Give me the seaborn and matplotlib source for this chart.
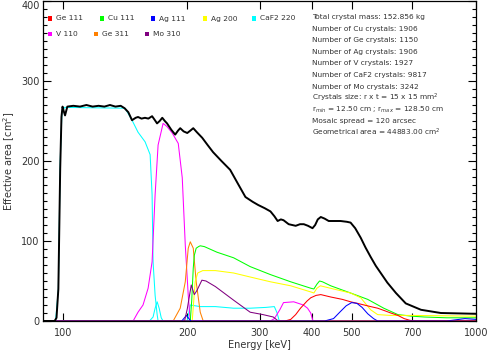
import matplotlib
matplotlib.use("Agg")
import matplotlib.pyplot as plt
from matplotlib.patches import Rectangle
from matplotlib.ticker import MultipleLocator, NullLocator
import pandas as pd
import seaborn as sns


# Total effective area (black curve)

total_e = [90, 95.5, 96.5, 97.5, 98.5, 99.2, 99.8, 100.5, 101.2, 102.5, 106, 110, 114, 118,
           122, 126, 130, 134, 138, 141, 144, 147, 150, 152, 155, 158, 161, 164.4, 167, 169,
           171.5, 174, 176.5, 178.7, 183, 187, 190, 192.3, 196, 200, 203.5, 206.8, 211, 217.4,
           224, 231, 242, 254, 265, 276.6, 288, 297, 308, 318, 325, 331, 337, 342, 352, 366,
           375, 383, 392, 402, 408, 414, 421, 430, 440, 450, 470, 487, 497, 510, 526, 540, 556,
           572, 588, 610, 640, 676, 736, 822, 1000]
total_a = [0, 0, 4, 40, 190, 255, 268, 262, 257, 268, 269, 268, 270, 268,
           269, 268, 270, 268, 269, 266, 261, 251, 254, 255, 253, 254, 253, 256, 251, 247,
           250, 254, 250, 247, 239, 233, 238, 241, 237, 235, 238, 241, 236, 229,
           220, 211, 200, 189, 172, 155, 149, 145, 141, 137, 131, 125, 127, 126, 121, 119,
           121, 121, 119, 116, 120, 127, 130, 128, 125, 125, 125, 124, 123, 116, 104, 92, 80,
           69, 60, 48, 35, 22, 14, 10, 9]


# Crystal components

cyan_e = [90, 96, 97.5, 98.5, 99.5, 101, 141.4, 147, 152, 158.1, 162.6, 164.4, 165.3, 167.2,
          169.1, 170, 200, 203.4, 215, 234, 259, 284, 310, 325, 330, 334, 1000]
cyan_a = [0, 0, 40, 200, 262, 267, 266, 251, 236, 224, 208, 158, 74, 32,
          8, 0, 0, 20, 18, 18, 16, 16, 17, 18, 10, 0, 0]
cyan_peak_e = [162, 165.3, 167.2, 169.1, 171, 173, 174.8]
cyan_peak_a = [0, 5, 16, 24, 16, 4, 0]

v110_e = [90, 147.9, 152, 156.3, 160.8, 164.4, 167.2, 170, 174.8, 178.7, 183.9, 190.2, 194.5,
          197.8, 201.1, 203.4, 318, 325, 335, 342, 362, 382, 391, 398, 403, 1000]
v110_a = [0, 0, 11, 20, 41, 74, 158, 220, 247, 243, 235, 222, 179,
          95, 32, 0, 0, 3, 14, 23, 24, 20, 16, 10, 0, 0]

ge311_e = [90, 184.9, 192.3, 197.8, 201.1, 203.4, 206.8, 210.2, 215, 218.6, 1000]
ge311_a = [0, 0, 16, 49, 91, 99, 91, 49, 11, 0, 0]

cu111_e = [90, 203.4, 205, 206.8, 208, 210.2, 213, 215, 220, 236, 259, 284, 318, 356, 398,
           405, 412, 418, 425, 445, 497, 547, 598, 647, 700, 750, 850, 1000]
cu111_a = [0, 0, 25, 66, 82, 91, 93, 94, 93, 86, 79, 68, 58, 49, 41,
           40, 46, 50, 49, 44, 35, 27, 16, 8, 6, 5, 4, 4]

ag200_e = [90, 205.6, 207, 209, 212, 218, 234, 259, 284, 318, 356, 400, 405, 412, 420, 452,
           497, 526, 556, 578, 620, 700, 1000]
ag200_a = [0, 0, 20, 49, 60, 63, 63, 60, 55, 49, 44, 36, 35, 41, 44, 40,
           35, 29, 14, 8, 7, 7, 6]

ge111_e = [90, 345, 356, 366, 376, 390, 398, 410, 421, 445, 475, 497, 517, 556, 578, 600,
           622, 647, 670, 690, 705, 1000]
ge111_a = [0, 0, 2, 8, 16, 25, 29, 32, 33, 30, 27, 24, 22, 18, 16, 13,
           10, 7, 3, 1, 0, 0]

ag111_e = [90, 430, 452, 470, 485, 500, 515, 530, 547, 565, 578, 850, 940, 1000]
ag111_a = [0, 0, 3, 12, 19, 23, 22, 17, 9, 3, 0, 0, 3, 2]
ag111_low_e = [194, 199, 204]
ag111_low_a = [0, 7, 0]

mo310_e = [90, 197, 200, 204.5, 208, 211, 217, 222, 234, 259, 284, 305, 323, 332, 1000]
mo310_a = [0, 0, 15, 45, 33, 38, 51, 50, 43, 26, 11, 8, 5, 0, 0]


# Legend entries (row 1 / row 2) and colours

legend_row1 = ["Ge 111", "Cu 111", "Ag 111", "Ag 200", "CaF2 220"]
legend_row2 = ["V 110", "Ge 311", "Mo 310"]
palette = {
    "Ge 111": "#ff0000",
    "Cu 111": "#00ff00",
    "Ag 111": "#0000ff",
    "Ag 200": "#ffff00",
    "CaF2 220": "#00ffff",
    "V 110": "#ff00ff",
    "Ge 311": "#ff8000",
    "Mo 310": "#800080",
}

info_lines = [
    "Total crystal mass: 152.856 kg",
    "Number of Cu crystals: 1906",
    "Number of Ge crystals: 1150",
    "Number of Ag crystals: 1906",
    "Number of V crystals: 1927",
    "Number of CaF2 crystals: 9817",
    "Number of Mo crystals: 3242",
    "Crystals size: r x t = 15 x 15 mm$^2$",
    "r$_{min}$ = 12.50 cm ; r$_{max}$ = 128.50 cm",
    "Mosaic spread = 120 arcsec",
    "Geometrical area = 44883.00 cm$^2$",
]


# Long-form table

segments = [
    ("CaF2 220", 0, cyan_e, cyan_a),
    ("CaF2 220", 1, cyan_peak_e, cyan_peak_a),
    ("V 110", 2, v110_e, v110_a),
    ("Ge 311", 3, ge311_e, ge311_a),
    ("Cu 111", 4, cu111_e, cu111_a),
    ("Ag 200", 5, ag200_e, ag200_a),
    ("Ge 111", 6, ge111_e, ge111_a),
    ("Ag 111", 7, ag111_e, ag111_a),
    ("Ag 111", 8, ag111_low_e, ag111_low_a),
    ("Mo 310", 9, mo310_e, mo310_a),
]

rows = []
for name, seg, es, As in segments:
    for e, a in zip(es, As):
        rows.append({"crystal": name, "segment": seg, "energy": e, "area": a})
df = pd.DataFrame(rows)

total_df = pd.DataFrame({"energy": total_e, "area": total_a})

draw_order = ["CaF2 220", "V 110", "Ge 311", "Cu 111", "Ag 200", "Ge 111", "Ag 111", "Mo 310"]


# Figure

sns.set_style("ticks")
plt.rcParams["font.family"] = ["DejaVu Sans"]
plt.rcParams["mathtext.fontset"] = "dejavusans"

W, H = 490, 353
fig = plt.figure(figsize=(W / 100, H / 100), dpi=100)
ax = fig.add_axes([43 / W, 32 / H, 433 / W, 320 / H])
ax.set_xscale("log")

sns.lineplot(
    data=df, x="energy", y="area", hue="crystal", units="segment",
    estimator=None, hue_order=draw_order, palette=palette,
    linewidth=0.75, legend=False, ax=ax
)

sns.lineplot(
    data=total_df, x="energy", y="area", color="black",
    linewidth=1.4, estimator=None, ax=ax
)

ax.set_xlim(89.5, 1000)
ax.set_ylim(0, 400)

xticks = [100, 200, 300, 400, 500, 700, 1000]
ax.set_xticks(xticks)
ax.set_xticklabels([str(t) for t in xticks])
ax.xaxis.set_minor_locator(NullLocator())
ax.set_yticks([0, 100, 200, 300, 400])
ax.yaxis.set_minor_locator(MultipleLocator(10))

txt_color = "#333333"
ax.tick_params(which="both", direction="in", top=True, right=True,
               colors="black", labelcolor=txt_color, width=0.8)
ax.tick_params(which="major", length=6, labelsize=7)
ax.tick_params(which="minor", length=3)
ax.tick_params(axis="x", pad=5)
ax.tick_params(axis="y", pad=2.5)

for sp in ax.spines.values():
    sp.set_linewidth(0.9)
    sp.set_color("black")

ax.set_xlabel("Energy [keV]", fontsize=7, color=txt_color, labelpad=1.5)
ax.set_ylabel("Effective area [cm$^2$]", fontsize=7, color=txt_color, labelpad=3)

# top label sits inside the figure, as in the original
fig.canvas.draw()
ax.yaxis.get_major_ticks()[-1].label1.set_verticalalignment("top")


# Legend boxes

def add_key(label, x, y):
    s = 4.6
    fig.add_artist(Rectangle(((x - s / 2) / W, 1 - (y + s / 2) / H), s / W, s / H,
                             transform=fig.transFigure, color=palette[label], lw=0))
    fig.text((x + 6) / W, 1 - y / H, label, fontsize=5.4, color=txt_color,
             va="center", ha="left")


for label, x in zip(legend_row1, [50, 102, 153, 205, 254]):
    add_key(label, x, 18.5)
for label, x in zip(legend_row2, [50, 96, 147]):
    add_key(label, x, 34)


# Info text block

for i, line in enumerate(info_lines):
    fig.text(312 / W, 1 - (17.3 + 11.55 * i) / H, line, fontsize=5.3,
             color=txt_color, va="center", ha="left")

plt.savefig("out.png", dpi=100)
